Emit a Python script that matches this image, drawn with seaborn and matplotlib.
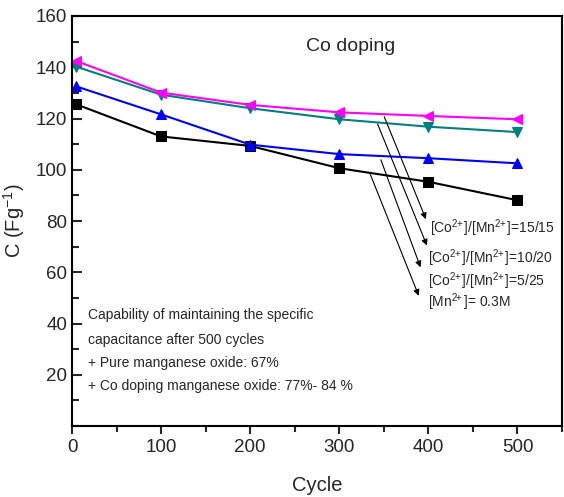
import matplotlib
matplotlib.use("Agg")
import matplotlib.pyplot as plt
import seaborn as sns
import pandas as pd
from matplotlib.ticker import MultipleLocator

sns.set_theme(style="ticks")
plt.rcParams['font.family'] = ['Liberation Sans', 'DejaVu Sans']
plt.rcParams['mathtext.fontset'] = 'custom'
plt.rcParams['mathtext.rm'] = 'Liberation Sans'
plt.rcParams['mathtext.it'] = 'Liberation Sans'
plt.rcParams['mathtext.bf'] = 'Liberation Sans'

cycles = [5, 100, 200, 300, 400, 500]
pure_mn = [125.5, 113.0, 109.3, 100.6, 95.3, 88.1]
co_5_25 = [132.5, 121.6, 109.8, 106.1, 104.5, 102.5]
co_10_20 = [140.2, 129.3, 124.0, 119.7, 116.8, 114.7]
co_15_15 = [142.4, 130.1, 125.3, 122.4, 121.0, 119.7]

SUP = r"$\mathregular{^{2\!\!+}}$"
series_names = ["[Mn" + SUP + "]= 0.3M",
                "[Co" + SUP + "]/[Mn" + SUP + "]=5/25",
                "[Co" + SUP + "]/[Mn" + SUP + "]=10/20",
                "[Co" + SUP + "]/[Mn" + SUP + "]=15/15"]
series_vals = [pure_mn, co_5_25, co_10_20, co_15_15]
colors = ["#000000", "#0000ff", "#008080", "#ff00ff"]
markers = ["s", "^", "v", "<"]

# arrow starts/ends and label positions (data coords)
arrow_start = [(333, 99.8), (345.6, 104.9), (341.9, 118.8), (349.3, 121.7)]
arrow_end = [(390.4, 49.8), (392.3, 60.9), (399.6, 69.4), (398.5, 79.7)]
label_pos = [(400, 48.2), (400, 56.6), (400, 65.6), (402, 77.3)]

rows = []
for name, vals in zip(series_names, series_vals):
    for c, v in zip(cycles, vals):
        rows.append({"Cycle": c, "C": v, "series": name})
df = pd.DataFrame(rows)

fig = plt.figure(figsize=(5.64, 4.97), dpi=100)
ax = fig.add_axes([72/564, 1 - 426/497, (562-72)/564, (426-16)/497])

for name, col, mk in zip(series_names, colors, markers):
    sub = df[df["series"] == name]
    sns.lineplot(data=sub, x="Cycle", y="C", ax=ax, color=col, marker=mk,
                 markersize=7, markeredgecolor=col, linewidth=1.5, legend=False)

ax.set_xlim(0, 550)
ax.set_ylim(0, 160)
ax.set_yticks([20, 40, 60, 80, 100, 120, 140, 160])
ax.set_xticks([0, 100, 200, 300, 400, 500])
ax.xaxis.set_minor_locator(MultipleLocator(50))
ax.yaxis.set_minor_locator(MultipleLocator(10))
ax.tick_params(axis='y', which='major', direction='in', length=7, width=1.5, labelsize=13.5)
ax.tick_params(axis='y', which='minor', direction='in', length=5, width=1.5)
ax.tick_params(axis='x', which='major', direction='out', length=6, width=1.5, labelsize=13.5)
ax.tick_params(axis='x', which='minor', direction='out', length=4, width=1.5)
for s in ax.spines.values():
    s.set_linewidth(1.5)
    s.set_color("black")

ax.set_xlabel("Cycle", fontsize=14.5, labelpad=14)
ax.set_ylabel("C (Fg$^{-1}$)", fontsize=14.5, labelpad=6)

ax.text(313, 148, "Co doping", fontsize=14, ha="center", va="center")

for (sx, sy), (ex, ey), (lx, ly), name in zip(arrow_start, arrow_end, label_pos, series_names):
    ax.annotate("", xy=(ex, ey), xytext=(sx, sy),
                arrowprops=dict(arrowstyle="-|>", color="black", lw=0.8,
                                mutation_scale=9))
    ax.text(lx, ly, name, fontsize=10, ha="left", va="center")

info = ["Capability of maintaining the specific",
        "capacitance after 500 cycles",
        "+ Pure manganese oxide: 67%",
        "+ Co doping manganese oxide: 77%- 84 %"]
info_y = [43.2, 33.7, 24.4, 15.6]
for t, yy in zip(info, info_y):
    ax.text(18, yy, t, fontsize=10, ha="left", va="center")

fig.savefig("out.png", dpi=100)
